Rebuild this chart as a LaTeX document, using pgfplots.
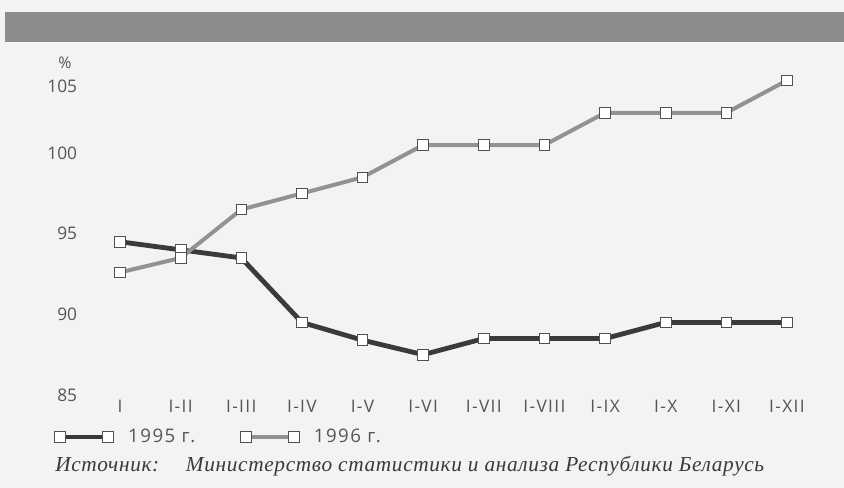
\documentclass[border=0pt]{standalone}
\usepackage{fontspec}
\setmainfont{Open Sans}
\newfontfamily\srcfont{Liberation Serif}
\usepackage{pgfplots}
\pgfplotsset{compat=1.18}
\definecolor{bg}{HTML}{F3F3F3}
\definecolor{band}{HTML}{8C8C8C}
\definecolor{txt}{HTML}{555555}
\definecolor{src}{HTML}{3A3A3A}
\definecolor{cA}{HTML}{3A3A3A}
\definecolor{cB}{HTML}{929292}
\definecolor{mk}{HTML}{505050}
\begin{document}
\begin{tikzpicture}
\fill[bg] (0,0) rectangle (633pt,366pt);
\fill[band] (3.75pt,334.5pt) rectangle (633pt,357pt);
\begin{axis}[
 at={(61.35pt,69.75pt)}, anchor=south west, scale only axis,
 width=551.6pt, height=254pt,
 xmin=-0.63, xmax=11.5, ymin=85, ymax=106,
 clip=false,
 axis line style={draw=none},
 major tick length=0pt,
 ytick={85,90,...,100},
 extra y ticks={105},
 extra y tick style={yticklabel style={yshift=-10.5pt}},
 xtick={0,...,11},
 xticklabels={I,I-II,I-III,I-IV,I-V,I-VI,I-VII,I-VIII,I-IX,I-X,I-XI,I-XII},
 /pgf/number format/assume math mode=true,
 tick label style={font=\fontsize{13}{15}\selectfont, text=txt},
 xticklabel style={font=\fontsize{13}{15}\selectfont\addfontfeature{LetterSpace=8}},
 legend columns=2,
 legend style={draw=none, fill=none, at={(-0.037,-0.124)}, anchor=west, inner sep=0pt,
   font=\fontsize{14}{16}\selectfont\addfontfeature{LetterSpace=8}, text=txt,
   /tikz/every odd column/.append style={column sep=9pt},
   /tikz/every even column/.append style={column sep=32pt}},
 legend image code/.code={\draw[#1] plot coordinates {(0pt,0pt) (36pt,0pt)};},
]
\addplot[cA, line width=3.6pt, mark=square*, mark size=4pt, mark options={fill=white, draw=mk, line width=0.6pt, solid}]
 coordinates {(0,94.5) (1,94.0) (2,93.5) (3,89.5) (4,88.4) (5,87.5) (6,88.5) (7,88.5) (8,88.5) (9,89.5) (10,89.5) (11,89.5)};
\addlegendentry{1995 г.}
\addplot[cB, line width=3pt, mark=square*, mark size=4pt, mark options={fill=white, draw=mk, line width=0.6pt, solid}]
 coordinates {(0,92.6) (1,93.5) (2,96.5) (3,97.5) (4,98.5) (5,100.5) (6,100.5) (7,100.5) (8,102.5) (9,102.5) (10,102.5) (11,104.5)};
\addlegendentry{1996 г.}
\end{axis}
\node[anchor=center, text=txt, font=\fontsize{12}{14}\selectfont] at (48.75pt,318.75pt) {\%};
\node[anchor=west, text=src, font=\srcfont\itshape\fontsize{16}{18}\selectfont\addfontfeature{LetterSpace=3}, inner sep=0pt] at (41.25pt,16.5pt) {Источник:\hspace{20pt}Министерство статистики и анализа Республики Беларусь};
\end{tikzpicture}
\end{document}
